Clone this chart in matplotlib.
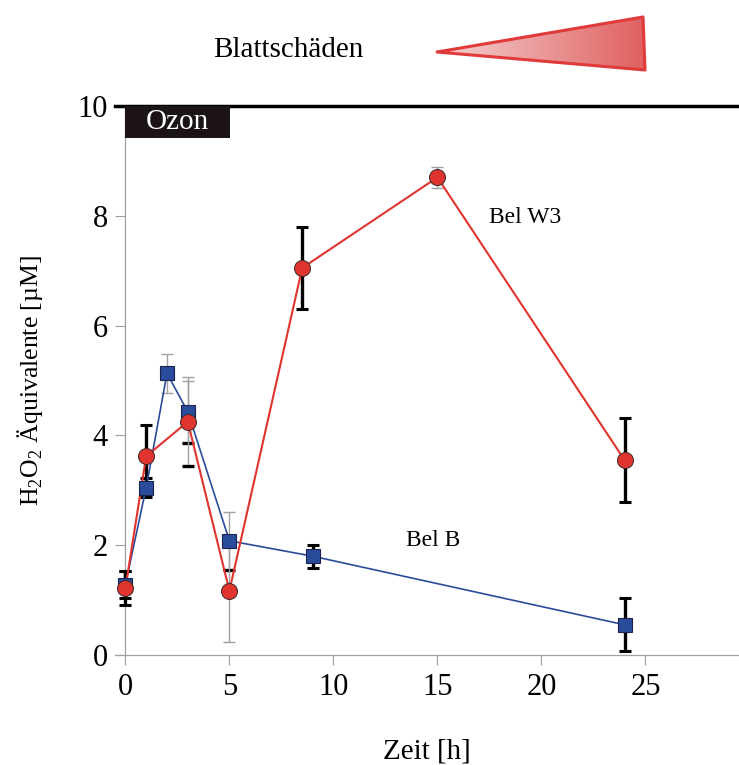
import matplotlib.pyplot as plt
import numpy as np
from matplotlib.patches import Polygon, Rectangle

plt.rcParams['font.family'] = ['Liberation Serif', 'DejaVu Serif']
plt.rcParams['mathtext.fontset'] = 'custom'
plt.rcParams['mathtext.rm'] = 'Liberation Serif'

# Bel W3 (ozone sensitive cultivar)
w3_time = [0, 1, 3, 5, 8.5, 15, 24]
w3_h2o2 = [1.22, 3.62, 4.25, 1.17, 7.05, 8.70, 3.55]
w3_sd = [0.31, 0.57, 0.81, 0.93, 0.75, 0.19, 0.76]

# Bel B (ozone tolerant cultivar)
b_time = [0, 1, 2, 3, 5, 9, 24]
b_h2o2 = [1.28, 3.05, 5.13, 4.43, 2.08, 1.80, 0.55]
b_sd = [0.25, 0.17, 0.36, 0.56, 0.53, 0.21, 0.48]

x_ticks = [0, 5, 10, 15, 20, 25]
y_ticks = [0, 2, 4, 6, 8, 10]

# which error bars are drawn heavy / get a heavy lower cap
w3_heavy = [1, 1, 0, 0, 1, 0, 1]
w3_lowcap = [0, 0, 1, 0, 0, 0, 0]
b_heavy = [1, 1, 0, 0, 0, 1, 1]
b_lowcap = [0, 0, 0, 1, 1, 0, 0]

RED = '#e0342e'
BLUE = '#2b4c9b'
GREY = '#a0a0a0'


def draw_errors(ax, t, y, sd, heavy, lowcap):
    for ti, yi, si, h, lc in zip(t, y, sd, heavy, lowcap):
        if h:
            ax.errorbar([ti], [yi], yerr=[si], fmt='none', ecolor='black',
                        elinewidth=2.4, capsize=4.5, capthick=2.2, zorder=2)
        else:
            ax.errorbar([ti], [yi], yerr=[si], fmt='none', ecolor=GREY,
                        elinewidth=1.0, capsize=4.5, capthick=1.0, zorder=2)
        if lc:
            ax.errorbar([ti], [yi], yerr=[[si], [0]], fmt='none', ecolor='black',
                        elinewidth=0, capsize=4.5, capthick=2.4, zorder=2)


fig = plt.figure(figsize=(7.39, 7.65), dpi=100)
ax = fig.add_axes([115 / 739, 1 - 655 / 765, 1 - 115 / 739, (655 - 106) / 765])

draw_errors(ax, b_time, b_h2o2, b_sd, b_heavy, b_lowcap)
draw_errors(ax, w3_time, w3_h2o2, w3_sd, w3_heavy, w3_lowcap)

ax.plot(b_time, b_h2o2, color=BLUE, lw=1.2, zorder=3)
ax.plot(w3_time, w3_h2o2, color=RED, lw=1.5, zorder=4)
ax.plot(b_time, b_h2o2, ls='none', marker='s', ms=10, mfc=BLUE,
        mec='#1a2350', mew=0.8, zorder=5)
ax.plot(w3_time, w3_h2o2, ls='none', marker='o', ms=11.5, mfc=RED,
        mec='#3a2a2a', mew=0.7, zorder=6)

ax.set_xlim(-0.5, 29.5)
ax.set_ylim(0, 10)
ax.set_xticks(x_ticks)
ax.set_yticks(y_ticks)
ax.tick_params(axis='x', direction='out', length=7, width=0.8, color=GREY,
               labelsize=22, pad=6)
ax.tick_params(axis='y', direction='in', length=7, width=0.8, color=GREY,
               labelsize=22, pad=5)

for side in ('left', 'right'):
    ax.spines[side].set_visible(False)
ax.spines['bottom'].set_color(GREY)
ax.spines['bottom'].set_linewidth(0.9)
ax.spines['top'].set_color('black')
ax.spines['top'].set_linewidth(2.5)
ax.axvline(0, color=GREY, lw=0.9, zorder=1)

# ozone exposure marker
ax.add_patch(Rectangle((0, 9.42), 5.05, 0.58, facecolor='#1c1414',
                       edgecolor='none', zorder=7, clip_on=False))
ax.text(2.5, 9.71, 'Ozon', color='white', fontsize=21, ha='center',
        va='center', zorder=8)

ax.text(17.5, 7.96, 'Bel W3', fontsize=17, ha='left', va='center')
ax.text(13.5, 2.09, 'Bel B', fontsize=17, ha='left', va='center')

ax.set_xlabel('Zeit [h]', fontsize=21, labelpad=26)
ax.set_ylabel('H$_2$O$_2$ Äquivalente [µM]', fontsize=18.5)
ax.yaxis.set_label_coords(-0.112, 0.5)

# leaf damage wedge above the plot
top = fig.add_axes([0, 0, 1, 1], zorder=10)
top.set_xlim(0, 739)
top.set_ylim(765, 0)
top.axis('off')
top.patch.set_alpha(0)
wedge = [(437, 52), (643, 17), (645, 70)]
grad = np.linspace(0, 1, 256).reshape(1, -1)
cmap = plt.matplotlib.colors.LinearSegmentedColormap.from_list(
    'wedge', ['#f5d3d3', '#e06060'])
img = top.imshow(grad, extent=(437, 645, 70, 17), cmap=cmap, aspect='auto')
clip = Polygon(wedge, closed=True, transform=top.transData)
img.set_clip_path(clip)
top.add_patch(Polygon(wedge, closed=True, facecolor='none',
                      edgecolor='#e03a3a', lw=2.2, joinstyle='round'))
top.text(288, 50, 'Blattschäden', fontsize=21, ha='center', va='center')

fig.savefig('out.png', dpi=100)
